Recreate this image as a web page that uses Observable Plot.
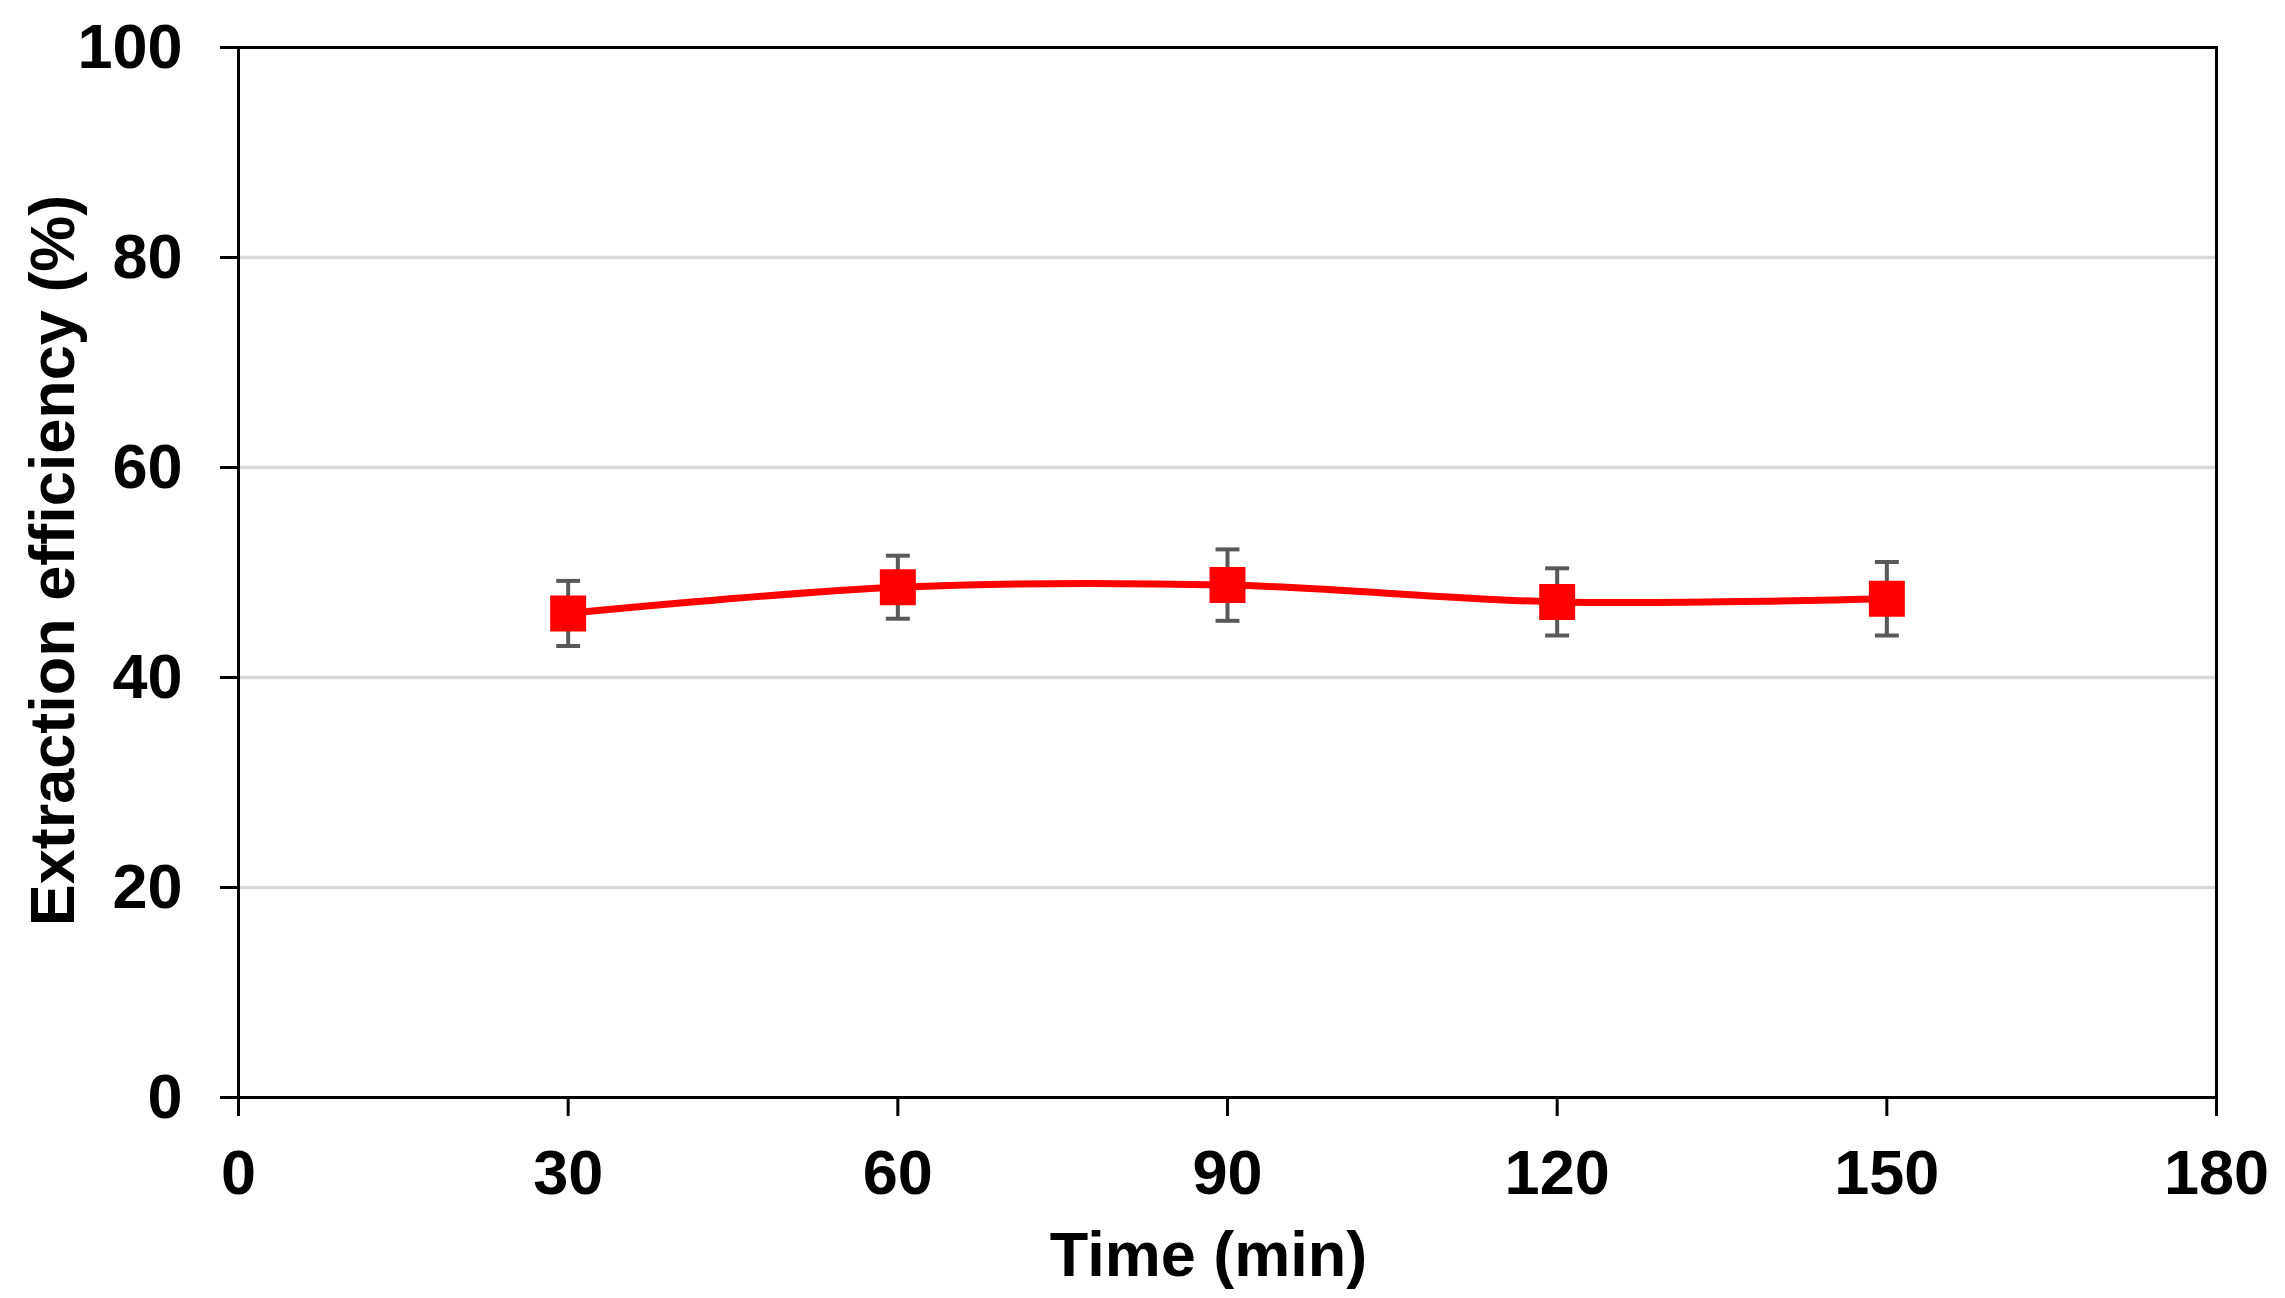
<!DOCTYPE html>
<html>
<head>
<meta charset="utf-8">
<script src="https://cdn.jsdelivr.net/npm/d3@7"></script>
<script src="https://cdn.jsdelivr.net/npm/@observablehq/plot@0.6"></script>
<style>
  html, body { margin: 0; padding: 0; background: #fff; }
  #chart svg { display: block; }
</style>
</head>
<body>
<div id="chart"></div>
<script>
// Data
const times = [30, 60, 90, 120, 150];
const efficiency = [46.1, 48.6, 48.8, 47.2, 47.5];
const errors = [3.1, 3.0, 3.4, 3.2, 3.5];
const xTicks = [0, 30, 60, 90, 120, 150, 180];
const yTicks = [0, 20, 40, 60, 80, 100];
const xLabel = "Time (min)";
const yLabel = "Extraction efficiency (%)";

const data = times.map((t, i) => ({
  t, v: efficiency[i], lo: efficiency[i] - errors[i], hi: efficiency[i] + errors[i]
}));

// horizontal cap symbol for error bars
const capSymbol = {
  draw(context, size) {
    const w = Math.sqrt(size);
    context.moveTo(-w / 2, 0);
    context.lineTo(w / 2, 0);
  }
};

const font = "'Liberation Sans', Arial, Helvetica, sans-serif";

const chart = Plot.plot({
  width: 2285,
  height: 1298,
  marginLeft: 238,
  marginRight: 69,
  marginTop: 47,
  marginBottom: 201,
  style: { fontFamily: font, fontWeight: "bold", fontSize: "63px", color: "#000", background: "#fff" },
  x: { domain: [0, 180] },
  y: { domain: [0, 100] },
  marks: [
    Plot.gridY(yTicks.filter(d => d > 0 && d < 100), { stroke: "#d9d9d9", strokeOpacity: 1, strokeWidth: 3.5 }),
    Plot.frame({ stroke: "#000", strokeWidth: 3 }),
    Plot.axisY(yTicks, { tickSize: 18, tickPadding: 38, strokeWidth: 3, label: null, fontSize: 63, fontWeight: "bold" }),
    Plot.axisX(xTicks, { tickSize: 19, tickPadding: 33, strokeWidth: 3, label: null, fontSize: 63, fontWeight: "bold" }),
    Plot.ruleX(data, { x: "t", y1: "lo", y2: "hi", stroke: "#595959", strokeWidth: 4 }),
    Plot.dot(data, { x: "t", y: "lo", symbol: capSymbol, r: 13.5, stroke: "#595959", strokeWidth: 4 }),
    Plot.dot(data, { x: "t", y: "hi", symbol: capSymbol, r: 13.5, stroke: "#595959", strokeWidth: 4 }),
    Plot.line(data, { x: "t", y: "v", curve: "catmull-rom", stroke: "#ff0000", strokeWidth: 7 }),
    Plot.dot(data, { x: "t", y: "v", symbol: "square", r: 20.3, fill: "#ff0000", stroke: "none" }),
    Plot.text([xLabel], { frameAnchor: "bottom", textAnchor: "middle", dx: -19, dy: 158, lineAnchor: "middle", fontSize: 63, fontWeight: "bold", fill: "#000" }),
    Plot.text([yLabel], { frameAnchor: "left", textAnchor: "middle", rotate: -90, dx: -185, dy: -12, lineAnchor: "middle", fontSize: 63, fontWeight: "bold", fill: "#000" })
  ]
});

document.getElementById("chart").appendChild(chart);
</script>
</body>
</html>
